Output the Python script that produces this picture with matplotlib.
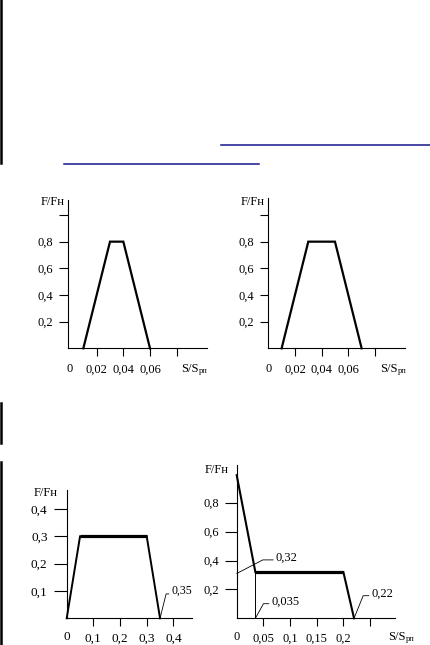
import matplotlib.pyplot as plt

plt.rcParams['font.family'] = ['Liberation Serif', 'DejaVu Serif']

W, H = 431, 645

# top left chart
s1 = [0.01, 0.03, 0.04, 0.06]
f1 = [0.0, 0.8, 0.8, 0.0]
# top right chart
s2 = [0.01, 0.03, 0.05, 0.07]
f2 = [0.0, 0.8, 0.8, 0.0]
top_yticks = [0.2, 0.4, 0.6, 0.8, 1.0]
top_ylabels = ['0,2', '0,4', '0,6', '0,8', '']
top_xticks = [0.02, 0.04, 0.06, 0.08]
top_xlabels = ['0,02', '0,04', '0,06', '']

# bottom left chart
s3 = [0.0, 0.05, 0.30, 0.35]
f3 = [0.0, 0.3, 0.3, 0.0]
bl_ticks = [0.1, 0.2, 0.3, 0.4]
bl_labels = ['0,1', '0,2', '0,3', '0,4']

# bottom right chart
s4 = [0.0, 0.035, 0.20, 0.22]
f4 = [0.99, 0.32, 0.32, 0.0]
br_yticks = [0.2, 0.4, 0.6, 0.8]
br_ylabels = ['0,2', '0,4', '0,6', '0,8']
br_xticks = [0.05, 0.10, 0.15, 0.20, 0.25]
br_xlabels = ['0,05', '0,1', '0,15', '0,2', '']

FS = 9

fig = plt.figure(figsize=(W / 100, H / 100), dpi=100)

# page decorations in pixel space
bg = fig.add_axes([0, 0, 1, 1])
bg.set_xlim(0, W)
bg.set_ylim(H, 0)
bg.axis('off')
for y0, y1 in [(0, 163), (403, 443), (462, 645)]:
    bg.plot([1.5, 1.5], [y0, y1], color='black', lw=1.8)
bg.plot([221, 431], [145, 145], color='#15158a', lw=1.1)
bg.plot([64, 259], [164, 164], color='#15158a', lw=1.1)


def make_ax(spine_x, x0, right, y0, top, xppu, yppu):
    ax = fig.add_axes([spine_x / W, 1 - y0 / H, (right - spine_x) / W, (y0 - top) / H])
    ax.set_xlim((spine_x - x0) / xppu, (right - x0) / xppu)
    ax.set_ylim(0, (y0 - top) / yppu)
    ax.patch.set_alpha(0)
    for side in ['top', 'right']:
        ax.spines[side].set_visible(False)
    for side in ['left', 'bottom']:
        ax.spines[side].set_linewidth(0.8)
    return ax


def name_labels(fx, fy, sx, sy, fs=FS):
    bg.text(fx, fy, 'F/Fн', fontsize=fs, ha='left', va='center')
    if sx is not None:
        bg.text(sx, sy, 'S/S', fontsize=fs, ha='left', va='center')
        bg.text(sx + 17.5, sy + 2, 'рп', fontsize=6, ha='left', va='center')


def style(ax, ylen, fs=FS, ypad=4.2, xpad=5.2):
    ax.tick_params(axis='y', direction='out', length=ylen, width=0.8, pad=ypad, labelsize=fs)
    ax.tick_params(axis='x', direction='out', length=5.8, width=0.8, pad=xpad, labelsize=fs)


# chart 1
ax1 = make_ax(68.3, 70, 207, 348.3, 200, 1333.3, 133.3)
ax1.plot(s1, f1, color='black', lw=1.6, clip_on=False, solid_joinstyle='miter')
ax1.set_yticks(top_yticks, top_ylabels)
ax1.set_xticks(top_xticks, top_xlabels)
style(ax1, 6.5)
ax1.annotate('0', xy=(0, 0), xytext=(0, -21), textcoords='offset pixels',
             ha='center', va='center', fontsize=FS)
name_labels(41, 201.7, 181, 369)

# chart 2
ax2 = make_ax(268.3, 268.3, 405, 348.3, 198, 1333.3, 133.3)
ax2.plot(s2, f2, color='black', lw=1.6, clip_on=False, solid_joinstyle='miter')
ax2.set_yticks(top_yticks, top_ylabels)
ax2.set_xticks(top_xticks, top_xlabels)
style(ax2, 6.0)
ax2.annotate('0', xy=(0, 0), xytext=(0, -21), textcoords='offset pixels',
             ha='center', va='center', fontsize=FS)
name_labels(241, 201.7, 380, 369)

# chart 3
ax3 = make_ax(66.7, 66.7, 191.7, 618.3, 490, 266.7, 273)
ax3.plot(s3[:2], f3[:2], color='black', lw=1.4, clip_on=False)
ax3.plot(s3[1:3], f3[1:3], color='black', lw=2.3, clip_on=False, solid_capstyle='butt')
ax3.plot(s3[2:], f3[2:], color='black', lw=1.4, clip_on=False)
ax3.set_yticks(bl_ticks, bl_labels)
ax3.set_xticks(bl_ticks, bl_labels)
style(ax3, 9.6, fs=9.5, xpad=4.4)
ax3.annotate('0', xy=(0, 0), xytext=(0, -19), textcoords='offset pixels',
             ha='center', va='center', fontsize=9.5)
ax3.annotate('0,35', xy=(s3[3], 0), xytext=(11.7, 28), textcoords='offset pixels',
             ha='left', va='center', fontsize=8.5,
             arrowprops=dict(arrowstyle='-', lw=0.6, color='black', relpos=(0, 0.2),
                             shrinkA=0, shrinkB=0,
                             connectionstyle='angle,angleA=0,angleB=76,rad=0'))
name_labels(34, 493.3, None, None)

# chart 4
ax4 = make_ax(236.7, 236.7, 395, 618.3, 465, 533.4, 144.5)
ax4.plot(s4[:2], f4[:2], color='black', lw=1.5, clip_on=False)
ax4.plot(s4[1:3], f4[1:3], color='black', lw=2.3, clip_on=False, solid_capstyle='butt')
ax4.plot(s4[2:], f4[2:], color='black', lw=1.5, clip_on=False)
ax4.plot([s4[1], s4[1]], [0, f4[1]], color='black', lw=0.7)
ax4.set_yticks(br_yticks, br_ylabels)
ax4.set_xticks(br_xticks, br_xlabels)
style(ax4, 8.6, xpad=4.4)
ax4.annotate('0', xy=(0, 0), xytext=(0, -19), textcoords='offset pixels',
             ha='center', va='center', fontsize=FS)
leaders = [('0,32', (0, 0.31), (39.3, 16), 27.5),
           ('0,035', (s4[1], 0), (16.3, 17), 61),
           ('0,22', (s4[3], 0), (17.7, 25), 68)]
for txt, xy, off, ang in leaders:
    ax4.annotate(txt, xy=xy, xytext=off, textcoords='offset pixels',
                 ha='left', va='center', fontsize=FS,
                 arrowprops=dict(arrowstyle='-', lw=0.6, color='black', relpos=(0, 0.3),
                                 shrinkA=0, shrinkB=0,
                                 connectionstyle='angle,angleA=0,angleB=%g,rad=0' % ang))
name_labels(205, 470, 388, 637)

fig.savefig('out.png', dpi=100)
